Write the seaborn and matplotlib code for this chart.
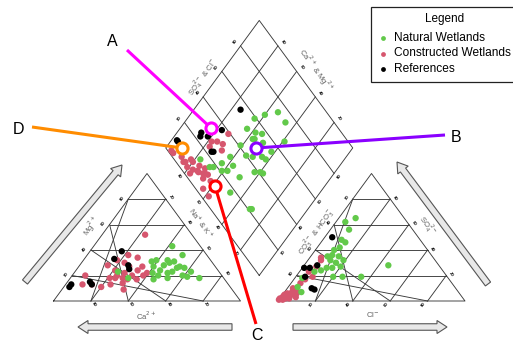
import numpy as np
import pandas as pd
import matplotlib
matplotlib.use("Agg")
import matplotlib.pyplot as plt
import seaborn as sns
from matplotlib.patches import FancyArrow, Rectangle

# ---------------- data (percent) ----------------
groups = ["Constructed Wetlands", "Natural Wetlands", "References"]
colors = {"Natural Wetlands": "#62c94a", "Constructed Wetlands": "#d6566e", "References": "#000000"}

# cation triangle: Mg2+ %, Na+ + K+ %
cat_nat_mg = [43, 36, 31, 32, 32, 30, 31, 27, 26, 23, 27, 24, 22, 23, 20, 19, 18, 22, 17, 18, 18, 23, 28, 26, 20]
cat_nat_na = [42, 51, 37, 39, 45, 47, 49, 54, 57, 62, 40, 45, 50, 52, 59, 62, 69, 42, 45, 52, 31, 23, 45, 53, 46]
cat_con_mg = [52, 36, 32, 34, 30, 27, 27, 24, 24, 22, 20, 20, 20, 18, 18, 20, 18, 17, 13, 13, 11, 13, 14, 9, 17, 22, 28]
cat_con_na = [23, 22, 18, 28, 23, 27, 34, 33, 21, 27, 32, 38, 7, 21, 24, 24, 28, 31, 9, 14, 20, 24, 30, 33, 36, 39, 15]
cat_ref_mg = [39, 33, 28, 25, 11, 13, 15, 13]
cat_ref_na = [17, 16, 26, 28, 3, 3, 12, 14]

# anion triangle: SO4 2- %, Cl- %
an_nat_so4 = [62, 65, 56, 48, 46, 42, 40, 36, 35, 35, 32, 30, 27, 26, 19, 19, 26, 24, 23, 18, 11, 7, 19, 28, 32]
an_nat_cl = [5, 9, 10, 10, 13, 12, 10, 11, 9, 15, 19, 16, 20, 16, 20, 25, 13, 11, 8, 4, 5, 9, 35, 45, 12]
an_con_so4 = [1, 3, 5, 6, 7, 1, 2, 3, 10, 14, 17, 19, 23, 27, 32, 34, 2, 2, 6, 4, 3, 5, 8]
an_con_cl = [0, 1, 1, 2, 4, 2, 5, 8, 3, 5, 6, 9, 5, 7, 7, 6, 3, 0, 7, 1, 4, 5, 6]
an_ref_so4 = [50, 26, 26, 28, 10, 9, 19]
an_ref_cl = [4, 1, 4, 7, 13, 15, 5]

# diamond: SO4+Cl %, Ca+Mg %
dia_nat_s = [51, 41, 50, 31, 24, 14, 18, 24, 40, 48, 16, 21, 29, 28, 17, 38, 21, 59, 66, 74, 74, 54, 57, 51, 54, 66, 55, 48, 49, 43, 41, 42, 22]
dia_nat_c = [64, 61, 57, 62, 64, 77, 67, 58, 54, 49, 69, 61, 57, 49, 48, 43, 31, 64, 60, 54, 46, 58, 54, 56, 50, 39, 42, 45, 42, 50, 40, 38, 30]
dia_con_s = [39, 32, 27, 24, 2, 5, 4, 9, 4, 6, 11, 10, 12, 8, 3, 8, 11, 8, 11, 4, 4, 9, 30, 29, 9, 5, 13, 2]
dia_con_c = [72, 71, 78, 77, 94, 88, 85, 82, 81, 77, 75, 70, 67, 73, 77, 74, 69, 68, 63, 64, 58, 90, 75, 69, 80, 84, 71, 96]
dia_ref_s = [55, 25, 23, 27, 37, 9, 9, 24, 23]
dia_ref_c = [75, 87, 86, 82, 77, 97, 96, 73, 74]

tick_labels = ["20", "40", "60", "80"]

# ---------------- geometry (pixel space) ----------------
LX, BASE = 53.5, 301.0
W, H = 187.0, 127.5
GAP = 37.5
RX = LX + W + GAP
DBX = LX + W + GAP / 2
DBY = BASE - GAP / W * H


def cat_xy(mg, na):
    mg = np.asarray(mg, float) / 100; na = np.asarray(na, float) / 100
    return LX + (na + mg / 2) * W, BASE - mg * H


def an_xy(so4, cl):
    so4 = np.asarray(so4, float) / 100; cl = np.asarray(cl, float) / 100
    return RX + (cl + so4 / 2) * W, BASE - so4 * H


def dia_xy(s, c):
    s = np.asarray(s, float) / 100; c = np.asarray(c, float) / 100
    return DBX + (s - c) * W / 2, DBY - (s + c) * H


plt.rcParams['font.family'] = ['Liberation Sans', 'DejaVu Sans']
plt.rcParams['mathtext.fontset'] = 'dejavusans'
fig = plt.figure(figsize=(5.13, 3.44), dpi=100)
ax = fig.add_axes([0, 0, 1, 1])

gc = "#3a3a3a"
glw = 0.65

# left triangle
x, y = cat_xy([0, 0, 100, 0], [0, 100, 0, 0])
ax.plot(x, y, color=gc, lw=glw)
for k in [20, 40, 60, 80]:
    for a, b in [(cat_xy([k, k], [0, 100 - k])), (cat_xy([0, 100 - k], [k, k])), (cat_xy([0, k], [100 - k, 0]))]:
        ax.plot(a, b, color=gc, lw=glw)
# right triangle
x, y = an_xy([0, 0, 100, 0], [0, 100, 0, 0])
ax.plot(x, y, color=gc, lw=glw)
for k in [20, 40, 60, 80]:
    for a, b in [(an_xy([k, k], [0, 100 - k])), (an_xy([0, 100 - k], [k, k])), (an_xy([0, k], [100 - k, 0]))]:
        ax.plot(a, b, color=gc, lw=glw)
# diamond
x, y = dia_xy([0, 0, 100, 100, 0], [0, 100, 100, 0, 0])
ax.plot(x, y, color=gc, lw=glw)
for k in [20, 40, 60, 80]:
    a, b = dia_xy([k, k], [0, 100]); ax.plot(a, b, color=gc, lw=glw)
    a, b = dia_xy([0, 100], [k, k]); ax.plot(a, b, color=gc, lw=glw)

# tiny tick labels
tk = dict(fontsize=3.2, color="#111111", ha='center', va='center', fontweight='bold')
for i, k in enumerate([20, 40, 60, 80]):
    lab = tick_labels[i]
    px, py = cat_xy(k, 0); ax.text(px - 6, py - 1, lab, rotation=54, **tk)
    px, py = cat_xy(k, 100 - k); ax.text(px + 5, py - 2, tick_labels[3 - i], rotation=-54, **tk)
    px, py = cat_xy(0, k); ax.text(px + 3, py + 3, tick_labels[3 - i], rotation=-54, **tk)
    px, py = an_xy(k, 0); ax.text(px - 5, py - 2, tick_labels[3 - i], rotation=54, **tk)
    px, py = an_xy(k, 100 - k); ax.text(px + 5, py - 1, lab, rotation=-54, **tk)
    px, py = an_xy(0, k); ax.text(px - 4, py + 3, lab, rotation=54, **tk)
    px, py = dia_xy(k, 100); ax.text(px - 5, py - 4, lab, rotation=54, **tk)
    px, py = dia_xy(100, k); ax.text(px + 5, py - 4, lab, rotation=-54, **tk)
    px, py = dia_xy(0, k); ax.text(px - 5, py + 3, lab, rotation=-54, **tk)
    px, py = dia_xy(k, 0); ax.text(px + 5, py + 3, lab, rotation=54, **tk)

# axis titles
at = dict(fontsize=5.5, color="#606060", ha='center', va='center')
ax.text(203, 77, r"SO$_4^{2-}$ & Cl$^{-}$", rotation=54, **at)
ax.text(316, 70, r"Ca$^{2+}$ & Mg$^{2+}$", rotation=-54, **at)
ax.text(91, 226, r"Mg$^{2+}$", rotation=54, **at)
ax.text(201, 223, r"Na$^{+}$ & K$^{+}$", rotation=-54, **at)
ax.text(146, 316, r"Ca$^{2+}$", **at)
ax.text(316, 232, r"CO$_3^{2-}$ & HCO$_3^{-}$", rotation=54, **at)
ax.text(427, 225, r"SO$_4^{2-}$", rotation=-54, **at)
ax.text(373, 315, r"Cl$^{-}$", **at)

# big hollow arrows
ak = dict(width=6.5, head_width=13, head_length=10, length_includes_head=True,
          fc="#e8e8e8", ec="#555555", lw=0.8, zorder=2)
for (x0, y0, x1, y1) in [(25, 282, 122, 165), (232, 327, 78, 327), (293, 327, 447, 327), (488, 284, 397, 162)]:
    ax.add_patch(FancyArrow(x0, y0, x1 - x0, y1 - y0, **ak))

# scatter points
rows = []
for g, (cm, cn), (aso, acl), (ds, dc) in [
    ("Constructed Wetlands", (cat_con_mg, cat_con_na), (an_con_so4, an_con_cl), (dia_con_s, dia_con_c)),
    ("Natural Wetlands", (cat_nat_mg, cat_nat_na), (an_nat_so4, an_nat_cl), (dia_nat_s, dia_nat_c)),
    ("References", (cat_ref_mg, cat_ref_na), (an_ref_so4, an_ref_cl), (dia_ref_s, dia_ref_c)),
]:
    for xs, ys in [cat_xy(cm, cn), an_xy(aso, acl), dia_xy(ds, dc)]:
        for a, b in zip(xs, ys):
            rows.append({"x": a, "y": b, "group": g})
df = pd.DataFrame(rows)
sns.scatterplot(data=df, x="x", y="y", hue="group", palette=colors, s=21,
                linewidth=0, legend=False, ax=ax, zorder=3)
ax.set_xlim(0, 513)
ax.set_ylim(344, 0)
ax.axis('off')

# annotations
ann = [("A", "#ff00ff", (211, 128), (127, 50), (112, 42)),
       ("D", "#ff8c00", (182, 148), (32, 127), (19, 129)),
       ("B", "#8a00ff", (256, 148), (445, 135), (456, 138)),
       ("C", "#ff0000", (215, 186), (256, 324), (257, 336))]
for lab, col, (cx, cy), (lx, ly), (tx, ty) in ann:
    ax.plot([lx, cx], [ly, cy], color=col, lw=2.2, solid_capstyle='butt', zorder=5)
    ax.plot([cx], [cy], 'o', ms=8, mfc='white', mec=col, mew=2.2, zorder=6)
    ax.text(tx, ty, lab, fontsize=11.5, ha='center', va='center', color='black', zorder=7)

# legend
ax.add_patch(Rectangle((371, 7), 152, 75, fc='white', ec='#222222', lw=0.9, zorder=4))
ax.text(445, 19, "Legend", fontsize=8.5, ha='center', va='center', zorder=5)
for i, g in enumerate(["Natural Wetlands", "Constructed Wetlands", "References"]):
    yy = 38 + i * 15.5
    ax.scatter([383], [yy], s=12, color=colors[g], linewidths=0, zorder=5)
    ax.text(394, yy, g, fontsize=8.6, ha='left', va='center', zorder=5)

fig.savefig("out.png", dpi=100)
